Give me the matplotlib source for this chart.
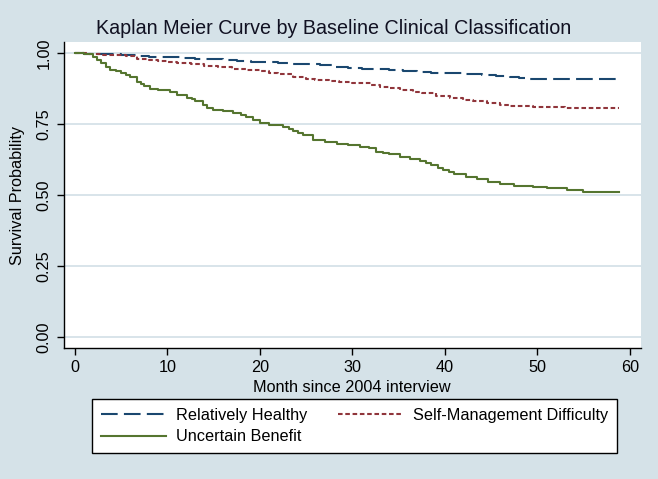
import matplotlib
matplotlib.use("Agg")
import matplotlib.pyplot as plt
from matplotlib.lines import Line2D

plt.rcParams['font.family'] = ['Liberation Sans', 'DejaVu Sans']

title = "Kaplan Meier Curve by Baseline Clinical Classification"
xlabel = "Month since 2004 interview"
ylabel = "Survival Probability"
xticks = [0, 10, 20, 30, 40, 50, 60]
yticks = [0.0, 0.25, 0.5, 0.75, 1.0]
ytick_labels = ["0.00", "0.25", "0.50", "0.75", "1.00"]

healthy_t = [0, 1, 2, 3.5, 5, 6.7, 8, 10, 11.5, 13, 14.5, 16, 17.5, 19, 20.5, 22, 23.5, 25,
             26.5, 28, 29.5, 31, 32.5, 34, 35.5, 37, 38.5, 40, 42, 44, 45.5, 47, 48, 49.2, 58.8]
healthy_s = [1.0, 0.998, 0.997, 0.995, 0.993, 0.989, 0.987, 0.985, 0.983, 0.98, 0.978, 0.975,
             0.973, 0.97, 0.968, 0.966, 0.963, 0.96, 0.956, 0.952, 0.948, 0.944, 0.942, 0.94,
             0.936, 0.933, 0.931, 0.928, 0.925, 0.921, 0.918, 0.915, 0.912, 0.908, 0.908]

selfmgmt_t = [0, 1.5, 3, 4.5, 5.5, 6.7, 8, 9, 10, 11, 12.5, 14, 15.5, 17, 18.5, 20, 21, 22,
              23.6, 25, 26, 27.5, 28.5, 30, 31, 32, 33, 34, 35.1, 36.5, 37.5, 39, 40.5, 42,
              43, 44.5, 45.9, 47, 48, 49.5, 51.4, 53, 54, 58.8]
selfmgmt_s = [1.0, 0.996, 0.994, 0.992, 0.99, 0.978, 0.975, 0.972, 0.969, 0.966, 0.961, 0.955,
              0.95, 0.945, 0.94, 0.935, 0.93, 0.925, 0.914, 0.91, 0.905, 0.901, 0.898, 0.895,
              0.893, 0.888, 0.882, 0.876, 0.87, 0.864, 0.858, 0.849, 0.84, 0.835, 0.83, 0.823,
              0.817, 0.815, 0.813, 0.811, 0.809, 0.807, 0.805, 0.805]

uncertain_t = [0, 1, 1.9, 2.4, 2.8, 3.3, 3.8, 4.4, 5, 5.5, 6, 6.7, 7.1, 7.5, 8.1, 9, 10.3, 11,
               12.1, 12.6, 13, 13.8, 14.3, 14.9, 16, 17.1, 18, 18.5, 19.2, 20, 21, 22.5, 23.1,
               23.6, 24.1, 24.6, 25.7, 27, 28.3, 29.5, 30.8, 31.8, 32.6, 33.3, 34, 35.1, 36.2,
               37.3, 38, 38.5, 39.2, 39.8, 40.4, 41, 42.3, 43.5, 44.7, 45.9, 47.5, 49.5, 51,
               53.2, 54.9, 58.8]
uncertain_s = [1.0, 0.995, 0.987, 0.977, 0.965, 0.952, 0.94, 0.935, 0.93, 0.922, 0.915, 0.899,
               0.892, 0.885, 0.872, 0.868, 0.864, 0.852, 0.843, 0.837, 0.83, 0.817, 0.808, 0.799,
               0.795, 0.79, 0.783, 0.775, 0.765, 0.755, 0.748, 0.738, 0.732, 0.726, 0.718, 0.71,
               0.694, 0.685, 0.68, 0.675, 0.67, 0.665, 0.653, 0.649, 0.645, 0.635, 0.628, 0.621,
               0.613, 0.605, 0.596, 0.588, 0.581, 0.575, 0.564, 0.555, 0.547, 0.539, 0.533,
               0.529, 0.525, 0.518, 0.509, 0.509]

labels = ["Relatively Healthy", "Self-Management Difficulty", "Uncertain Benefit"]
colors = ["#1a476f", "#90353b", "#55752f"]

bg = "#d5e2e8"
grid_c = "#d5e2e8"
LW = 1.5
dash_h = (8, 3)
dash_s = (2.2, 1.3)

fig = plt.figure(figsize=(6.58, 4.79), dpi=100, facecolor=bg)
ax = fig.add_axes([64/658, 1-348/479, (641-64)/658, (348-42)/479])
ax.set_facecolor("white")

ax.plot(healthy_t, healthy_s, drawstyle='steps-post', color=colors[0], lw=LW, dashes=dash_h)
ax.plot(selfmgmt_t, selfmgmt_s, drawstyle='steps-post', color=colors[1], lw=LW, dashes=dash_s)
ax.plot(uncertain_t, uncertain_s, drawstyle='steps-post', color=colors[2], lw=LW)

ax.set_xlim(-1.19, 61.2)
ax.set_ylim(-0.0387, 1.0387)
ax.set_xticks(xticks)
ax.set_yticks(yticks)
ax.set_yticklabels(ytick_labels, rotation=90, va='center')
ax.grid(axis='y', color=grid_c, lw=1.3)
ax.set_axisbelow(True)
for s in ['top', 'right']:
    ax.spines[s].set_visible(False)
for s in ['left', 'bottom']:
    ax.spines[s].set_color('black')
    ax.spines[s].set_linewidth(1.0)
ax.tick_params(axis='both', length=5, width=1.0, labelsize=11.7, colors='black', pad=4)

fig.text(334/658, 1-28/479, title, ha='center', va='center', fontsize=14.2, color='#111122')
fig.text(352/658, 1-388/479, xlabel, ha='center', va='center', fontsize=11.7)
fig.text(18/658, 1-195/479, ylabel, ha='center', va='center', fontsize=11.7, rotation=90)

handles = [
    Line2D([], [], color=colors[0], lw=LW, dashes=dash_h),
    Line2D([], [], color=colors[2], lw=LW),
    Line2D([], [], color=colors[1], lw=LW, dashes=dash_s),
]
hl = [labels[0], labels[2], labels[1]]
leg = fig.legend(handles, hl, ncol=2, loc='upper left',
                 bbox_to_anchor=(92/658, 1-399/479), fontsize=11.7,
                 frameon=True, fancybox=False, edgecolor='black', facecolor='white',
                 framealpha=1, handlelength=4.0, handletextpad=0.6, columnspacing=1.9,
                 borderpad=0.55, labelspacing=0.4, borderaxespad=0)
leg.get_frame().set_linewidth(1.0)

fig.savefig("out.png", dpi=100, facecolor=bg)
